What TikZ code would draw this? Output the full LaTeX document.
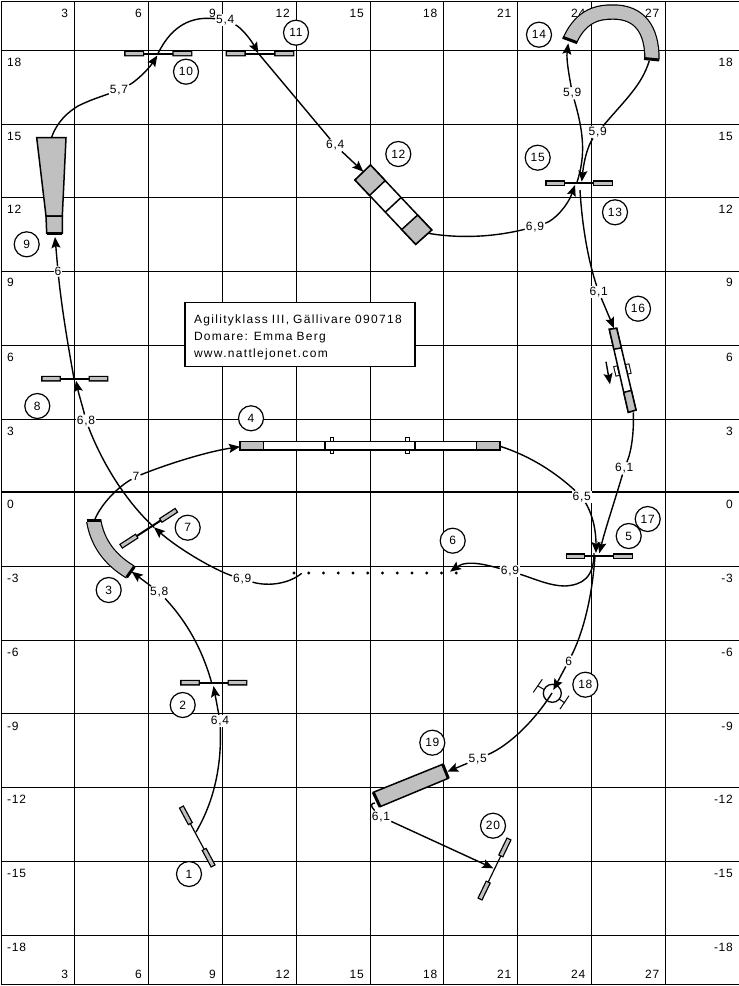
\documentclass[tikz,border=0pt]{standalone}
\usepackage{fontspec}
\setmainfont[LetterSpace=6]{Liberation Sans}
\usetikzlibrary{arrows.meta, calc}

\definecolor{barfill}{HTML}{C0C0C0}

\tikzset{
  gridline/.style={draw=black, line width=1pt},
  axistext/.style={font=\fontsize{12}{14}\selectfont, inner sep=0pt},
  numcircle/.style={circle, draw=black, fill=white, line width=1.2pt, minimum size=25pt, inner sep=0pt, font=\fontsize{12}{14}\selectfont},
  distlabel/.style={fill=white, inner sep=1pt, font=\fontsize{12}{14}\selectfont},
  course/.style={draw=black, line width=1.4pt},
  plank/.style={draw=black, fill=white, line width=1.5pt},
  panel/.style={draw=black, fill=barfill, line width=1.5pt},
  sidetick/.style={draw=black, line width=1pt, double=white, double distance=2.5pt, line cap=rect},
  tunnel/.style={draw=black, line width=1.2pt, double=barfill, double distance=13pt},
  tunnelend/.style={draw=black, line width=3pt},
  barend/.style={draw=black, line width=1.3pt, double=barfill, double distance=3pt, line cap=rect},
  infobox/.style={draw=black, fill=white, line width=1.5pt, minimum width=230pt, minimum height=64pt, text width=212pt, align=left, inner sep=0pt, font=\fontsize{12}{17}\selectfont\addfontfeature{LetterSpace=11}}
}

% jump: bar between two points with a block at each end
\newcommand{\hurdle}[3][2pt]{
  \draw[line width=#1] (#2) -- (#3);
  \draw[barend] (#2) -- ($(#2)!0.23!(#3)$);
  \draw[barend] (#3) -- ($(#3)!0.23!(#2)$);
}

\begin{document}
\begin{tikzpicture}[x=1pt, y=-1pt, >={Stealth[length=11pt,width=9pt,inset=2pt]}]

\useasboundingbox (0,0) rectangle (739,986);
\fill[white] (0,0) rectangle (739,986);

% Grid
\foreach \x in {74.3,148,222,296,370,443.5,517.5,591.5,665.5} {
  \draw[gridline] (\x,1) -- (\x,984);
}
\foreach \y in {50.7,124,197.5,271,345,419,566,640,713.5,787.5,861,935} {
  \draw[gridline] (1,\y) -- (739,\y);
}
\draw[gridline] (1,1) -- (739,1);
\draw[gridline] (1,1) -- (1,984);
\draw[gridline] (1,984) -- (739,984);
\draw[draw=black, line width=2pt] (1,492) -- (739,492);

% Axis numbers
\foreach \x/\n in {74.3/3,148/6,222/9,296/12,370/15,443.5/18,517.5/21,591.5/24,665.5/27} {
  \node[axistext, anchor=east] (top\n) at (\x-6,13) {\n};
  \node[axistext, anchor=east] (bottom\n) at (\x-6,974) {\n};
}
\foreach \y/\n in {62/18,136/15,209/12,282/9,357/6,431/3,504/0,578/-3,652/-6,726/-9,799/-12,873/-15,947/-18} {
  \node[axistext, anchor=west] (left\n) at (7,\y) {\n};
  \node[axistext, anchor=east] (right\n) at (733,\y) {\n};
}

% Info box
\node[infobox] (info) at (300,334.7) {\rule{0pt}{15pt}Agilityklass III, Gällivare 090718\\Domare: Emma Berg\\www.nattlejonet.com};

% Jumps
\coordinate (j1a) at (182.5,809);
\coordinate (j1b) at (212,864);
\coordinate (j2a) at (183,682.7);
\coordinate (j2b) at (244.5,682.7);
\coordinate (j5a) at (568.5,556);
\coordinate (j5b) at (630,556);
\coordinate (j7a) at (123,545);
\coordinate (j7b) at (174.5,511.5);
\coordinate (j8a) at (44,378.7);
\coordinate (j8b) at (105.5,378.7);
\coordinate (j10a) at (127,53.5);
\coordinate (j10b) at (189.5,53.5);
\coordinate (j11a) at (228.5,53.5);
\coordinate (j11b) at (291.5,53.5);
\coordinate (j13a) at (548,183);
\coordinate (j13b) at (610,183);
\coordinate (j20a) at (508,841);
\coordinate (j20b) at (481,897);

\hurdle[1.2pt]{j1a}{j1b}
\hurdle{j2a}{j2b}
\hurdle{j5a}{j5b}
\hurdle{j7a}{j7b}
\hurdle{j8a}{j8b}
\hurdle{j10a}{j10b}
\hurdle{j11a}{j11b}
\hurdle{j13a}{j13b}
\hurdle[1.2pt]{j20a}{j20b}

% Tunnel 3
\draw[tunnel] (93.7,520.7) .. controls (97,540) and (107,558) .. (130.3,572);
\draw[tunnelend] (86.7,520.7) -- (101,520.7);
\draw[tunnelend] (126.7,577.3) -- (134.3,566.7);

% Tunnel 14
\draw[tunnel] (570,40) .. controls (582,14) and (600,12) .. (613,12) .. controls (640,12) and (652,30) .. (652,59);
\draw[tunnelend] (562.7,37.3) -- (577.3,42.7);
\draw[tunnelend] (644,58.5) -- (659.3,60);

% Chute 9
\draw[panel] (36.7,137.7) -- (66,137.7) -- (62.3,216) -- (46,216) -- cycle;
\draw[panel] (46,216) -- (62.3,216) -- (62.3,233.3) -- (46.7,233.3) -- cycle;
\draw[tunnelend] (46.7,233.5) -- (62.3,233.5);

% Tunnel 19
\draw[panel] (373.3,792.3) -- (442.7,764.3) -- (448.3,778.3) -- (380,806.7) -- cycle;
\draw[tunnelend] (373.3,792.3) -- (380,806.7);
\draw[tunnelend] (442.7,764.3) -- (448.3,778.3);

% Obstacle 4
\draw[sidetick] (332,439) -- (332,452);
\draw[sidetick] (407.5,439) -- (407.5,452);
\draw[plank] (240,441.7) rectangle (500,450);
\draw[panel] (240,441.7) rectangle (263.3,450);
\draw[panel] (476.7,441.7) rectangle (500,450);
\draw[draw=black, line width=1.5pt] (325,441.7) -- (325,450);
\draw[draw=black, line width=1.5pt] (415,441.7) -- (415,450);

% Obstacle 12
\coordinate (p12a) at (370.5,165);
\coordinate (p12b) at (431.7,230);
\coordinate (p12c) at (415.7,244.3);
\coordinate (p12d) at (355,180);
\draw[plank] (p12a) -- (p12b) -- (p12c) -- (p12d) -- cycle;
\draw[panel] (p12a) -- ($(p12a)!.24!(p12b)$) -- ($(p12d)!.24!(p12c)$) -- (p12d) -- cycle;
\draw[panel] ($(p12a)!.77!(p12b)$) -- (p12b) -- (p12c) -- ($(p12d)!.77!(p12c)$) -- cycle;
\draw[draw=black, line width=1.5pt] ($(p12a)!.5!(p12b)$) -- ($(p12d)!.5!(p12c)$);

% Obstacle 16
\coordinate (p16a) at (609.3,329.3);
\coordinate (p16b) at (616.7,328.3);
\coordinate (p16c) at (636,410);
\coordinate (p16d) at (628.3,412.3);
\draw[sidetick] (615.8,368) -- (617.3,374);
\draw[sidetick] (627.6,366) -- (629,372);
\draw[plank] (p16a) -- (p16b) -- (p16c) -- (p16d) -- cycle;
\draw[panel] (p16a) -- (p16b) -- ($(p16b)!.24!(p16c)$) -- ($(p16a)!.24!(p16d)$) -- cycle;
\draw[panel] ($(p16a)!.76!(p16d)$) -- ($(p16b)!.76!(p16c)$) -- (p16c) -- (p16d) -- cycle;
\coordinate (dir16a) at (606,361.7);
\coordinate (dir16b) at (610,384.3);
\draw[course, ->] (dir16a) -- (dir16b);

% Weave poles 6
\foreach \i in {0,...,11} {
  \fill ({294+\i*14.75},573) circle (1.6pt);
}

% Tire 18
\draw[line width=1pt] (533.3,692.3) -- (542.3,679.3);
\draw[line width=1pt] (560,709) -- (569,695.7);
\draw[line width=1pt] (538,686) -- (545,690);
\draw[line width=1pt] (559,699) -- (565,703);
\node[circle, draw=black, fill=white, line width=1.3pt, minimum size=18pt, inner sep=0pt] (tire18) at (552.3,693.3) {};

% Course ends
\coordinate (out1) at (196,832);
\coordinate (in2) at (213.5,686);
\coordinate (out2) at (211.7,683);
\coordinate (in3) at (131.7,571.7);
\coordinate (out3) at (95,519);
\coordinate (in4) at (240,446.7);
\coordinate (out4) at (500.7,446.5);
\coordinate (in5) at (596,553);
\coordinate (out5) at (594,553);
\coordinate (in6) at (450,571.7);
\coordinate (out6) at (301.7,573.3);
\coordinate (in7) at (154,527.3);
\coordinate (in8) at (76,380.7);
\coordinate (out8) at (74,378.7);
\coordinate (in9) at (55,237);
\coordinate (out9) at (51.7,137);
\coordinate (in10) at (157.3,55.5);
\coordinate (out10) at (158,53.5);
\coordinate (in11) at (258.3,53.3);
\coordinate (in12) at (363.3,171.7);
\coordinate (out12) at (428.3,233.3);
\coordinate (in13) at (575,185);
\coordinate (out13) at (576.7,183.3);
\coordinate (in14) at (568.3,43.3);
\coordinate (out14) at (649.3,60.7);
\coordinate (in15) at (581.7,181.7);
\coordinate (out15) at (580,190);
\coordinate (in16) at (614,328.3);
\coordinate (out16) at (633.3,412.3);
\coordinate (in17) at (599.3,553.3);
\coordinate (out17) at (595,556);
\coordinate (in18) at (553.3,690);
\coordinate (out18) at (552,693);
\coordinate (in19) at (447.3,771.7);
\coordinate (out19) at (375,803);
\coordinate (in20) at (493.3,868.3);

% Distances
\node[distlabel] (d2) at (220,721) {6,4};
\node[distlabel] (d3) at (159.3,592.3) {5,8};
\node[distlabel] (d4) at (136,476.7) {7};
\node[distlabel] (d5) at (581.7,496.7) {6,5};
\node[distlabel] (d6) at (510,571) {6,9};
\node[distlabel] (d7) at (242.3,579.3) {6,9};
\node[distlabel] (d8) at (86,420.7) {6,8};
\node[distlabel] (d9) at (58,271.3) {6};
\node[distlabel] (d10) at (119,90) {5,7};
\node[distlabel] (d11) at (225.3,20) {5,4};
\node[distlabel] (d12) at (335.3,145.3) {6,4};
\node[distlabel] (d13) at (535,226.7) {6,9};
\node[distlabel] (d14) at (572.3,93.3) {5,9};
\node[distlabel] (d15) at (597.7,132.3) {5,9};
\node[distlabel] (d16) at (598.7,292) {6,1};
\node[distlabel] (d17) at (624.3,468.3) {6,1};
\node[distlabel] (d18) at (568.7,661) {6};
\node[distlabel] (d19) at (477.7,759) {5,5};
\node[distlabel] (d20) at (381,816.7) {6,1};

% Course
\draw[course] (out1) .. controls (212,805) and (222,770) .. (d2);
\draw[course, ->] (d2) -- (in2);
\draw[course] (out2) .. controls (204,655) and (190,625) .. (d3);
\draw[course, ->] (d3) -- (in3);
\draw[course] (out3) .. controls (102,503) and (118,487) .. (d4);
\draw[course, ->] (d4) .. controls (165,465) and (205,452) .. (in4);
\draw[course] (out4) .. controls (530,456) and (555,472) .. (d5);
\draw[course, ->] (d5) .. controls (590,510) and (596,525) .. (in5);
\draw[course] (out5) .. controls (594,578) and (582,585) .. (565,586) .. controls (550,586) and (535,579) .. (d6);
\draw[course, ->] (d6) .. controls (490,566) and (468,559) .. (in6);
\draw[course] (out6) .. controls (290,583) and (270,587) .. (d7);
\draw[course, ->] (d7) .. controls (215,570) and (180,550) .. (in7);
\draw[course] (in7) .. controls (130,505) and (105,470) .. (d8);
\draw[course, ->] (d8) .. controls (83,408) and (79,395) .. (in8);
\draw[course] (out8) .. controls (68,345) and (62,310) .. (d9);
\draw[course, ->] (d9) -- (in9);
\draw[course] (out9) .. controls (57,122) and (68,112) .. (78,106) .. controls (90,100) and (100,97) .. (d10);
\draw[course, ->] (d10) .. controls (135,82) and (148,70) .. (in10);
\draw[course] (out10) .. controls (172,25) and (192,16) .. (d11);
\draw[course, ->] (d11) .. controls (240,27) and (250,38) .. (in11);
\draw[course] (in11) -- (d12);
\draw[course, ->] (d12) -- (in12);
\draw[course] (out12) .. controls (455,238) and (490,238) .. (d13);
\draw[course, ->] (d13) .. controls (555,220) and (568,205) .. (in13);
\draw[course] (out13) .. controls (584,160) and (586,140) .. (d14);
\draw[course, ->] (d14) .. controls (570,80) and (566,60) .. (in14);
\draw[course] (out14) .. controls (642,85) and (625,100) .. (d15);
\draw[course, ->] (d15) .. controls (588,145) and (584,160) .. (in15);
\draw[course] (out15) .. controls (582,225) and (588,260) .. (d16);
\draw[course, ->] (d16) -- (in16);
\draw[course] (out16) .. controls (634,430) and (632,450) .. (d17);
\draw[course, ->] (d17) .. controls (615,500) and (605,530) .. (in17);
\draw[course] (out17) .. controls (592,600) and (582,635) .. (d18);
\draw[course, ->] (d18) -- (in18);
\draw[course] (out18) .. controls (535,720) and (510,745) .. (d19);
\draw[course, ->] (d19) -- (in19);
\draw[course] (out19) .. controls (371,803) and (370,806) .. (d20);
\draw[course, ->] (d20) -- (in20);

% Numbers
\node[numcircle] (n1) at (189,874) {1};
\node[numcircle] (n2) at (182.7,705) {2};
\node[numcircle] (n3) at (108.7,590) {3};
\node[numcircle] (n4) at (251,418.3) {4};
\node[numcircle] (n5) at (628.7,536) {5};
\node[numcircle] (n6) at (452.7,540.7) {6};
\node[numcircle] (n7) at (187.7,527.7) {7};
\node[numcircle] (n8) at (37.3,406) {8};
\node[numcircle] (n9) at (26.7,244.3) {9};
\node[numcircle] (n10) at (186,71.7) {10};
\node[numcircle] (n11) at (296,32.7) {11};
\node[numcircle] (n12) at (398.3,154) {12};
\node[numcircle] (n13) at (615,212.3) {13};
\node[numcircle] (n14) at (539,34.7) {14};
\node[numcircle] (n15) at (537.7,157.7) {15};
\node[numcircle] (n16) at (638,308.7) {16};
\node[numcircle] (n17) at (647.7,519) {17};
\node[numcircle] (n18) at (585.3,684.7) {18};
\node[numcircle] (n19) at (432.3,742.7) {19};
\node[numcircle] (n20) at (493,825.7) {20};

\end{tikzpicture}
\end{document}
